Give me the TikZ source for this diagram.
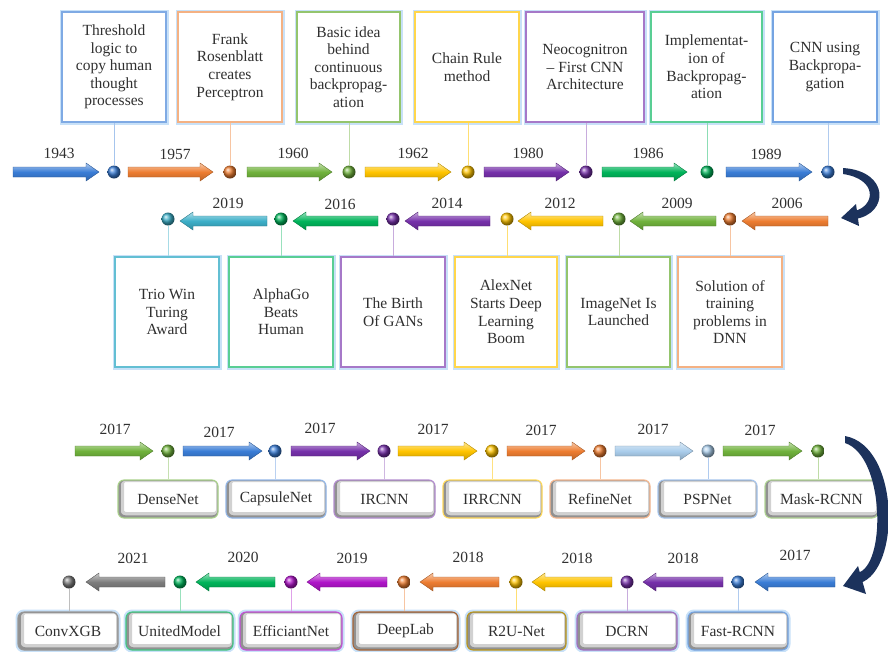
\documentclass[tikz,border=0pt]{standalone}
\usepackage{fontspec}
\setmainfont{Liberation Serif}

\definecolor{tblue}{RGB}{58,125,214}
\definecolor{torange}{RGB}{237,125,49}
\definecolor{tgreen}{RGB}{112,178,60}
\definecolor{tyellow}{RGB}{255,196,0}
\definecolor{tpurple}{RGB}{118,48,170}
\definecolor{tteal}{RGB}{0,180,90}
\definecolor{tcyan}{RGB}{60,175,200}
\definecolor{tlblue}{RGB}{170,205,235}
\definecolor{tgrey}{RGB}{125,125,125}
\definecolor{tmagenta}{RGB}{175,20,200}
\definecolor{navy}{RGB}{28,50,92}
\definecolor{glow}{RGB}{200,225,248}
\definecolor{txt}{RGB}{48,48,48}

% block arrow pointing right: x-from, x-to (tip), y, colour
\newcommand\tlR[4]{%
  \shadedraw[blockarrow=#4] (#1,#3-5) -- (#2-13,#3-5) -- (#2-13,#3-9) -- (#2,#3)
    -- (#2-13,#3+9) -- (#2-13,#3+5) -- (#1,#3+5) -- cycle;}
% block arrow pointing left: x-tip, x-tail, y, colour
\newcommand\tlL[4]{%
  \shadedraw[blockarrow=#4] (#1,#3) -- (#1+13,#3-9) -- (#1+13,#3-5) -- (#2,#3-5)
    -- (#2,#3+5) -- (#1+13,#3+5) -- (#1+13,#3+9) -- cycle;}

\begin{document}
\begin{tikzpicture}[x=1pt,y=-1pt,
  every node/.style={font=\fontsize{15.5}{17.6}\selectfont, text=txt},
  blockarrow/.style={top color=#1!40!white, bottom color=#1!80!black,
    middle color=#1, draw=#1!70!black, line width=0.4pt},
  tldot/.style={circle, inner sep=0pt, minimum size=13pt, ball color=#1},
  year/.style={inner sep=0pt},
  bigbox/.style={draw=#1, line width=1.3pt, fill=white, minimum height=110pt,
    align=center, inner sep=2pt, preaction={draw=glow, line width=5pt}},
  smallbox/.style={draw=#1, line width=1.1pt, rounded corners=6pt, fill=white,
    minimum height=38pt, inner sep=0pt,
    path picture={
      \draw[black, opacity=0.18, line width=8pt]
        ([shift={(2pt,2pt)}]path picture bounding box.south west) rectangle
        ([shift={(2pt,2pt)}]path picture bounding box.north east);
      \draw[black, opacity=0.30, line width=3.5pt]
        ([shift={(1pt,1pt)}]path picture bounding box.south west) rectangle
        ([shift={(1pt,1pt)}]path picture bounding box.north east);}},
  glowbox/.style={smallbox=#1, preaction={draw=glow, line width=5pt}},
  conn/.style={draw=#1, line width=0.8pt}]

\useasboundingbox (0,0) rectangle (888,651);

% ---------- row 1 : 1943 - 1989 ----------
\tlR{13}{99}{172}{tblue}
\tlR{128}{213}{172}{torange}
\tlR{247}{332}{172}{tgreen}
\tlR{365}{451}{172}{tyellow}
\tlR{484}{569}{172}{tpurple}
\tlR{602}{687}{172}{tteal}
\tlR{726}{812}{172}{tblue}

\node[year] at (59,153) {1943};
\node[year] at (175,154) {1957};
\node[year] at (293,153) {1960};
\node[year] at (413,153) {1962};
\node[year] at (528,153) {1980};
\node[year] at (648,153) {1986};
\node[year] at (766,154) {1989};

\node[bigbox=tblue!65, minimum width=104pt] (a1) at (114,67)
  {Threshold\\logic to\\copy human\\thought\\processes};
\node[bigbox=torange!60, minimum width=104pt] (a2) at (230,67)
  {Frank\\Rosenblatt\\creates\\Perceptron};
\node[bigbox=tgreen!75, minimum width=103pt] (a3) at (348.5,67)
  {Basic idea\\behind\\continuous\\backpropag-\\ation};
\node[bigbox=tyellow!70, minimum width=104pt] (a4) at (467,67)
  {Chain Rule\\method};
\node[bigbox=tpurple!65, minimum width=118pt] (a5) at (585,67)
  {Neocognitron\\-- First CNN\\Architecture};
\node[bigbox=tteal!65, minimum width=111pt] (a6) at (706.5,67)
  {Implementat-\\ion of\\Backpropag-\\ation};
\node[bigbox=tblue!70, minimum width=104pt] (a7) at (825,67)
  {CNN using\\Backpropa-\\gation};

\node[tldot=tblue] (p1) at (114,172) {};
\node[tldot=torange] (p2) at (230,172) {};
\node[tldot=tgreen] (p3) at (349,172) {};
\node[tldot=tyellow] (p4) at (468,172) {};
\node[tldot=tpurple] (p5) at (586,172) {};
\node[tldot=tteal] (p6) at (707,172) {};
\node[tldot=tblue] (p7) at (828,172) {};

\draw[conn=tblue!45] (p1) -- (p1 |- a1.south);
\draw[conn=torange!45] (p2) -- (p2 |- a2.south);
\draw[conn=tgreen!45] (p3) -- (p3 |- a3.south);
\draw[conn=tyellow!55] (p4) -- (p4 |- a4.south);
\draw[conn=tpurple!40] (p5) -- (p5 |- a5.south);
\draw[conn=tteal!45] (p6) -- (p6 |- a6.south);
\draw[conn=tblue!40] (p7) -- (p7 |- a7.south);

% turn from row 1 to row 2
\fill[navy] (843,168) .. controls (890,171) and (889,214) .. (855,219)
  -- (855,211) .. controls (876,205) and (877,179) .. (843,174) -- cycle;
\fill[navy] (841,218) -- (856,204) -- (859,226) -- cycle;

% ---------- row 2 : 2006 - 2019 ----------
\tlL{742}{828}{221}{torange}
\tlL{630}{716}{221}{tgreen}
\tlL{518}{603}{221}{tyellow}
\tlL{405}{490}{221}{tpurple}
\tlL{293}{378}{221}{tteal}
\tlL{180}{267}{221}{tcyan}

\node[year] at (787,203) {2006};
\node[year] at (677,203) {2009};
\node[year] at (560,203) {2012};
\node[year] at (447,203) {2014};
\node[year] at (340,204) {2016};
\node[year] at (228,203) {2019};

\node[bigbox=tcyan!80, minimum width=104pt] (b1) at (167,312)
  {Trio Win\\Turing\\Award};
\node[bigbox=tteal!65, minimum width=104pt] (b2) at (281,312)
  {AlphaGo\\Beats\\Human};
\node[bigbox=tpurple!65, minimum width=104pt] (b3) at (393,312)
  {The Birth\\Of GANs};
\node[bigbox=tyellow!70, minimum width=102pt] (b4) at (506,312)
  {AlexNet\\Starts Deep\\Learning\\Boom};
\node[bigbox=tgreen!75, minimum width=103pt] (b5) at (618.5,312)
  {ImageNet Is\\Launched};
\node[bigbox=torange!60, minimum width=104pt] (b6) at (730,312)
  {Solution of\\training\\problems in\\DNN};

\node[tldot=tcyan] (q1) at (168,219) {};
\node[tldot=tteal] (q2) at (281,219) {};
\node[tldot=tpurple] (q3) at (393,219) {};
\node[tldot=tyellow] (q4) at (507,219) {};
\node[tldot=tgreen] (q5) at (619,219) {};
\node[tldot=torange] (q6) at (730,219) {};

\draw[conn=tcyan!45] (q1) -- (q1 |- b1.north);
\draw[conn=tteal!40] (q2) -- (q2 |- b2.north);
\draw[conn=tpurple!40] (q3) -- (q3 |- b3.north);
\draw[conn=tyellow!55] (q4) -- (q4 |- b4.north);
\draw[conn=tgreen!45] (q5) -- (q5 |- b5.north);
\draw[conn=torange!45] (q6) -- (q6 |- b6.north);

% ---------- row 3 : 2017 ----------
\tlR{75}{153}{451}{tgreen}
\tlR{183}{262}{451}{tblue}
\tlR{291}{370}{451}{tpurple}
\tlR{398}{477}{451}{tyellow}
\tlR{507}{585}{451}{torange}
\tlR{615}{693}{451}{tlblue}
\tlR{723}{802}{451}{tgreen}

\node[year] at (115,429) {2017};
\node[year] at (219,432) {2017};
\node[year] at (320,428) {2017};
\node[year] at (433,429) {2017};
\node[year] at (541,430) {2017};
\node[year] at (653,429) {2017};
\node[year] at (760,430) {2017};

\node[smallbox=tgreen!60, minimum width=100pt] (c1) at (168,499) {DenseNet};
\node[smallbox=tblue!55, minimum width=100pt] (c2) at (276,499) {CapsuleNet};
\node[smallbox=tpurple!55, minimum width=101pt] (c3) at (384.5,499) {IRCNN};
\node[smallbox=tyellow!65, minimum width=99pt] (c4) at (492.5,499) {IRRCNN};
\node[smallbox=torange!55, minimum width=100pt] (c5) at (600,499) {RefineNet};
\node[smallbox=tblue!45, minimum width=99pt] (c6) at (707.5,499) {PSPNet};
\node[smallbox=tgreen!55, minimum width=113pt] (c7) at (821.5,499) {Mask-RCNN};

\node[tldot=tgreen] (r1) at (168,451) {};
\node[tldot=tblue] (r2) at (275,451) {};
\node[tldot=tpurple] (r3) at (384,451) {};
\node[tldot=tyellow] (r4) at (492,451) {};
\node[tldot=torange] (r5) at (600,451) {};
\node[tldot=tlblue] (r6) at (708,451) {};
\node[tldot=tgreen] (r7) at (818,451) {};

\draw[conn=tgreen!40] (r1) -- (r1 |- c1.north);
\draw[conn=tblue!35] (r2) -- (r2 |- c2.north);
\draw[conn=tpurple!35] (r3) -- (r3 |- c3.north);
\draw[conn=tyellow!50] (r4) -- (r4 |- c4.north);
\draw[conn=torange!45] (r5) -- (r5 |- c5.north);
\draw[conn=tblue!40] (r6) -- (r6 |- c6.north);
\draw[conn=tgreen!45] (r7) -- (r7 |- c7.north);

% turn from row 3 to row 4
\fill[navy] (845,436) .. controls (900,446) and (901,570) .. (860,583)
  -- (860,572) .. controls (886,560) and (884,456) .. (845,443) -- cycle;
\fill[navy] (843,586) -- (858,566) -- (866,594) -- cycle;

% ---------- row 4 : 2017 - 2021 ----------
\tlL{755}{835}{582}{tblue}
\tlL{643}{723}{582}{tpurple}
\tlL{532}{612}{582}{tyellow}
\tlL{420}{499}{582}{torange}
\tlL{307}{387}{582}{tmagenta}
\tlL{196}{275}{582}{tteal}
\tlL{86}{165}{582}{tgrey}

\node[year] at (795,555) {2017};
\node[year] at (683,558) {2018};
\node[year] at (577,558) {2018};
\node[year] at (468,557) {2018};
\node[year] at (352,558) {2019};
\node[year] at (243,557) {2020};
\node[year] at (133,558) {2021};

\node[glowbox=tgrey!80, minimum width=100pt] (e1) at (68,631) {ConvXGB};
\node[glowbox=tteal!75, minimum width=107pt] (e2) at (179.5,631) {UnitedModel};
\node[glowbox=tmagenta!75, minimum width=102pt] (e3) at (291,631) {EfficiantNet};
\node[glowbox=torange!65!black!90, minimum width=105pt] (e4) at (405.5,631) {DeepLab};
\node[glowbox=tyellow!70!black!90, minimum width=99pt] (e5) at (516.5,631) {R2U-Net};
\node[glowbox=tpurple!70, minimum width=100pt] (e6) at (627,631) {DCRN};
\node[glowbox=tblue!70, minimum width=100pt] (e7) at (738,631) {Fast-RCNN};

\node[tldot=tgrey] (s1) at (69,582) {};
\node[tldot=tteal] (s2) at (180,582) {};
\node[tldot=tmagenta] (s3) at (291,582) {};
\node[tldot=torange] (s4) at (404,582) {};
\node[tldot=tyellow] (s5) at (516,582) {};
\node[tldot=tpurple] (s6) at (627,582) {};
\node[tldot=tblue] (s7) at (738,582) {};

\draw[conn=tgrey!50] (s1) -- (s1 |- e1.north);
\draw[conn=tteal!40] (s2) -- (s2 |- e2.north);
\draw[conn=tmagenta!40] (s3) -- (s3 |- e3.north);
\draw[conn=torange!45] (s4) -- (s4 |- e4.north);
\draw[conn=tyellow!55] (s5) -- (s5 |- e5.north);
\draw[conn=tpurple!40] (s6) -- (s6 |- e6.north);
\draw[conn=tblue!40] (s7) -- (s7 |- e7.north);

\end{tikzpicture}
\end{document}
